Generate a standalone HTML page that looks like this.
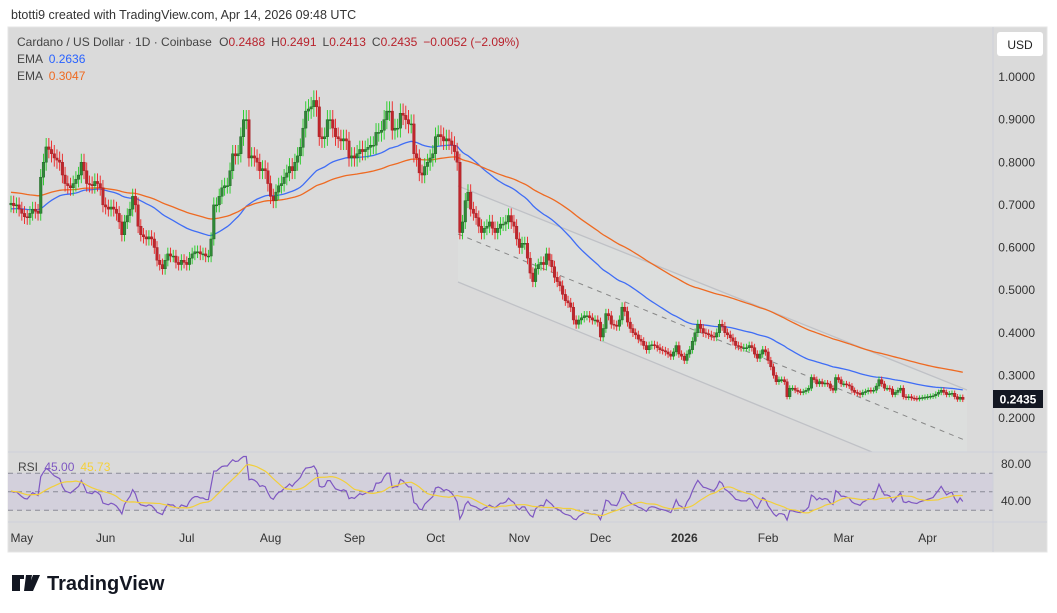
<!DOCTYPE html>
<html><head><meta charset="utf-8">
<style>
html,body{margin:0;padding:0;background:#fff;width:1057px;height:613px;overflow:hidden;font-family:"Liberation Sans",sans-serif;}
svg{position:absolute;left:0;top:0;}
</style></head>
<body>
<svg id="chart" width="1057" height="613" xmlns="http://www.w3.org/2000/svg">
  <text x="11" y="19" font-size="12.5" fill="#333">btotti9 created with TradingView.com, Apr 14, 2026 09:48 UTC</text>
  <rect x="8" y="27" width="1039" height="525" fill="#dadada" stroke="#e4e4e4"/>
  <g id="channel"></g>
  <g id="grid"></g>
  <g id="ema"></g>
  <g id="candles"></g>
  <g id="rsi"></g>
  <line x1="993" y1="27" x2="993" y2="552" stroke="#cdd0da"/>
  <line x1="8" y1="452" x2="1047" y2="452" stroke="#cdd0da"/>
  <line x1="8" y1="522" x2="1047" y2="522" stroke="#cdd0da"/>
  <g id="yaxis"></g>
  <g id="xaxis"></g>
  <rect x="997" y="32" width="46" height="24" rx="3" fill="#fff"/>
  <text x="1020" y="49" font-size="12" fill="#222" text-anchor="middle">USD</text>
  <g>
    <text x="17" y="46" font-size="12" fill="#444">Cardano / US Dollar · 1D · Coinbase <tspan dx="4">O</tspan><tspan fill="#b8222c">0.2488</tspan><tspan dx="6">H</tspan><tspan fill="#b8222c">0.2491</tspan><tspan dx="6">L</tspan><tspan fill="#b8222c">0.2413</tspan><tspan dx="6">C</tspan><tspan fill="#b8222c">0.2435</tspan><tspan dx="6" fill="#b8222c">−0.0052 (−2.09%)</tspan></text>
    <text x="17" y="63" font-size="12" fill="#444">EMA <tspan dx="3" fill="#2962ff">0.2636</tspan></text>
    <text x="17" y="80" font-size="12" fill="#444">EMA <tspan dx="3" fill="#ef6a20">0.3047</tspan></text>
    <text x="18" y="471" font-size="12" fill="#444">RSI <tspan dx="3" fill="#7e57c2">45.00</tspan><tspan dx="6" fill="#f5d13a">45.73</tspan></text>
  </g>
  <rect x="993" y="390" width="50" height="18" fill="#131722"/>
  <text x="1018" y="403.5" font-size="12" font-weight="bold" fill="#fff" text-anchor="middle">0.2435</text>
  <g>
    <path d="M12 575h12v4h-4v12h-8z M26 575h6l-3 16h-5z M33 575h7l-7 16h-6z" fill="#131722"/>
    <text x="47" y="590" font-size="20" font-weight="bold" fill="#131722">TradingView</text>
  </g>
</svg>
<script>
const closes = [.704,.698,.70,.69,.68,.672,.67,.68,.69,.685,.68,.765,.80,.836,.83,.82,.81,.805,.80,.77,
.75,.745,.74,.75,.76,.77,.80,.78,.75,.748,.745,.755,.75,.74,.70,.695,.69,.695,.69,.68,
.66,.63,.66,.675,.69,.72,.70,.65,.63,.625,.62,.625,.62,.60,.57,.56,.55,.57,.585,.58,
.58,.565,.56,.57,.565,.56,.575,.585,.59,.59,.585,.585,.58,.58,.62,.70,.70,.72,.74,.745,
.745,.78,.82,.815,.82,.86,.90,.90,.81,.815,.81,.80,.78,.785,.78,.75,.72,.71,.73,.745,
.75,.765,.775,.79,.78,.80,.815,.835,.88,.92,.925,.93,.945,.93,.86,.855,.86,.90,.90,.88,
.86,.855,.85,.855,.85,.81,.815,.81,.82,.83,.825,.83,.835,.84,.84,.87,.87,.875,.90,.92,
.92,.875,.88,.88,.915,.91,.90,.89,.89,.82,.81,.775,.77,.79,.80,.81,.82,.86,.865,.86,
.85,.855,.85,.84,.825,.80,.635,.66,.71,.73,.69,.68,.67,.65,.635,.645,.65,.66,.645,.635,
.645,.655,.655,.66,.675,.66,.65,.62,.60,.61,.61,.575,.54,.52,.55,.56,.565,.56,.585,.57,
.555,.53,.52,.51,.49,.475,.47,.46,.43,.42,.43,.435,.44,.44,.435,.43,.43,.425,.39,.41,
.445,.44,.42,.418,.415,.43,.46,.45,.425,.41,.40,.395,.385,.38,.37,.36,.37,.372,.37,.365,
.36,.358,.355,.35,.345,.355,.37,.35,.345,.335,.35,.36,.38,.40,.42,.41,.40,.398,.395,.392,
.39,.40,.42,.415,.40,.395,.388,.38,.37,.368,.365,.365,.365,.37,.365,.35,.34,.35,.36,.355,
.335,.32,.30,.285,.29,.29,.285,.25,.27,.27,.265,.262,.26,.262,.265,.27,.295,.29,.28,.285,
.28,.282,.28,.27,.265,.295,.29,.28,.28,.278,.275,.265,.26,.258,.255,.26,.262,.265,.264,.265,
.275,.29,.28,.27,.27,.268,.255,.26,.265,.27,.25,.248,.25,.247,.246,.245,.247,.248,.249,.25,
.251,.252,.256,.26,.265,.26,.255,.257,.258,.25,.244,.2488,.2435];
const firstOpen = 0.70;
const priceTicks = [1.0,0.9,0.8,0.7,0.6,0.5,0.4,0.3,0.2];
const rsiTicks = [80,40];
const monthLabels = ["May","Jun","Jul","Aug","Sep","Oct","Nov","Dec","2026","Feb","Mar","Apr"];
const monthDays = [4,35,65,96,127,157,188,218,249,280,308,339];
const emaFastSeed = 0.69, emaSlowSeed = 0.73;

const NS="http://www.w3.org/2000/svg";
const X = i => 11 + i*2.704;
const Y = p => 77 + (1-p)*426.25;
const RY = v => 464 + (80-v)*37/40;
function mk(tag, parent, attrs){const e=document.createElementNS(NS,tag);for(const k in attrs)e.setAttribute(k,attrs[k]);parent.appendChild(e);return e;}

const ch=document.getElementById('channel');
const xa=458,xb=967, ua=186,ub=390, la=282,lb=491, ma=234,mb=441;
const cp=mk('clipPath',ch,{id:'mainclip'});mk('rect',cp,{x:8,y:27,width:985,height:425});
const cg=mk('g',ch,{'clip-path':'url(#mainclip)'});
let fill=mk('polygon',cg,{points:`${xa},${ua} ${xb},${ub} ${xb},${lb} ${xa},${la}`,fill:'#dcdedd'});


let l1=mk('line',cg,{x1:xa,y1:ua,x2:xb,y2:ub,stroke:'#bfc1c6','stroke-width':1.3});


let l2=mk('line',cg,{x1:xa,y1:la,x2:xb,y2:lb,stroke:'#bfc1c6','stroke-width':1.3});


let l3=mk('line',cg,{x1:xa,y1:ma,x2:xb,y2:mb,stroke:'#888','stroke-width':1,'stroke-dasharray':'5 5'});



function ema(seed,n){const k=2/(n+1);let e=seed;return closes.map(c=>(e=c*k+e*(1-k)));}
const ef=ema(emaFastSeed,50), es=ema(emaSlowSeed,100);
const eg=document.getElementById('ema');
let p1=mk('polyline',eg,{points:ef.map((v,i)=>X(i)+','+Y(v)).join(' '),fill:'none',stroke:'#3f6df5','stroke-width':1.3});


let p2=mk('polyline',eg,{points:es.map((v,i)=>X(i)+','+Y(v)).join(' '),fill:'none',stroke:'#ee6a22','stroke-width':1.3});



const cgp=document.getElementById('candles');
closes.forEach((c,i)=>{
  const o = i===0?firstOpen:closes[i-1];
  const up=c>=o;
  const hi=Math.max(o,c)*1.025, lo=Math.min(o,c)*0.975;
  const g=mk('g',cgp,{});
  
  
  mk('line',g,{x1:X(i),x2:X(i),y1:Y(hi),y2:Y(lo),stroke:up?'#22cc22':'#ee2222','stroke-width':0.9});
  const top=Y(Math.max(o,c)), h=Math.max(1,Y(Math.min(o,c))-top);
  mk('rect',g,{x:X(i)-1.3,y:top,width:2.6,height:h,fill:up?'#2f8a36':'#c0262c',stroke:up?'#1d5a22':'#a01c22','stroke-width':0.4});
});

const rg=document.getElementById('rsi');
let band=mk('rect',rg,{x:8,y:RY(70),width:985,height:RY(30)-RY(70),fill:'#d3d0dc'});


[70,50,30].forEach(v=>{let l=mk('line',rg,{x1:8,x2:993,y1:RY(v),y2:RY(v),stroke:'#8a8a96','stroke-dasharray':'5 4','stroke-width':1});

});
let ag=0.008,al=0.008;const rsi=[];
closes.forEach((c,i)=>{const o=i===0?firstOpen:closes[i-1];const d=c-o;ag=(ag*13+Math.max(d,0))/14;al=(al*13+Math.max(-d,0))/14;rsi.push(100-100/(1+ag/al));});
const rma=rsi.map((v,i)=>{const s=rsi.slice(Math.max(0,i-13),i+1);return s.reduce((a,b)=>a+b,0)/s.length;});
let rl=mk('polyline',rg,{points:rsi.map((v,i)=>X(i)+','+RY(v)).join(' '),fill:'none',stroke:'#7e57c2','stroke-width':1.2});


let rm=mk('polyline',rg,{points:rma.map((v,i)=>X(i)+','+RY(v)).join(' '),fill:'none',stroke:'#f2cf3a','stroke-width':1.2});



const ya=document.getElementById('yaxis');
priceTicks.forEach(p=>{const t=mk('text',ya,{x:1035,y:Y(p)+4,'font-size':12,fill:'#333','text-anchor':'end'});t.textContent=p.toFixed(4);

});
rsiTicks.forEach(v=>{const t=mk('text',ya,{x:1031,y:RY(v)+4,'font-size':12,fill:'#333','text-anchor':'end'});t.textContent=v.toFixed(2);

});
const xg=document.getElementById('xaxis');
monthLabels.forEach((m,k)=>{const t=mk('text',xg,{x:X(monthDays[k]),y:542,'font-size':12,fill:'#333','text-anchor':'middle','font-weight':m==='2026'?'bold':'normal'});t.textContent=m;

});
</script>
</body></html>
